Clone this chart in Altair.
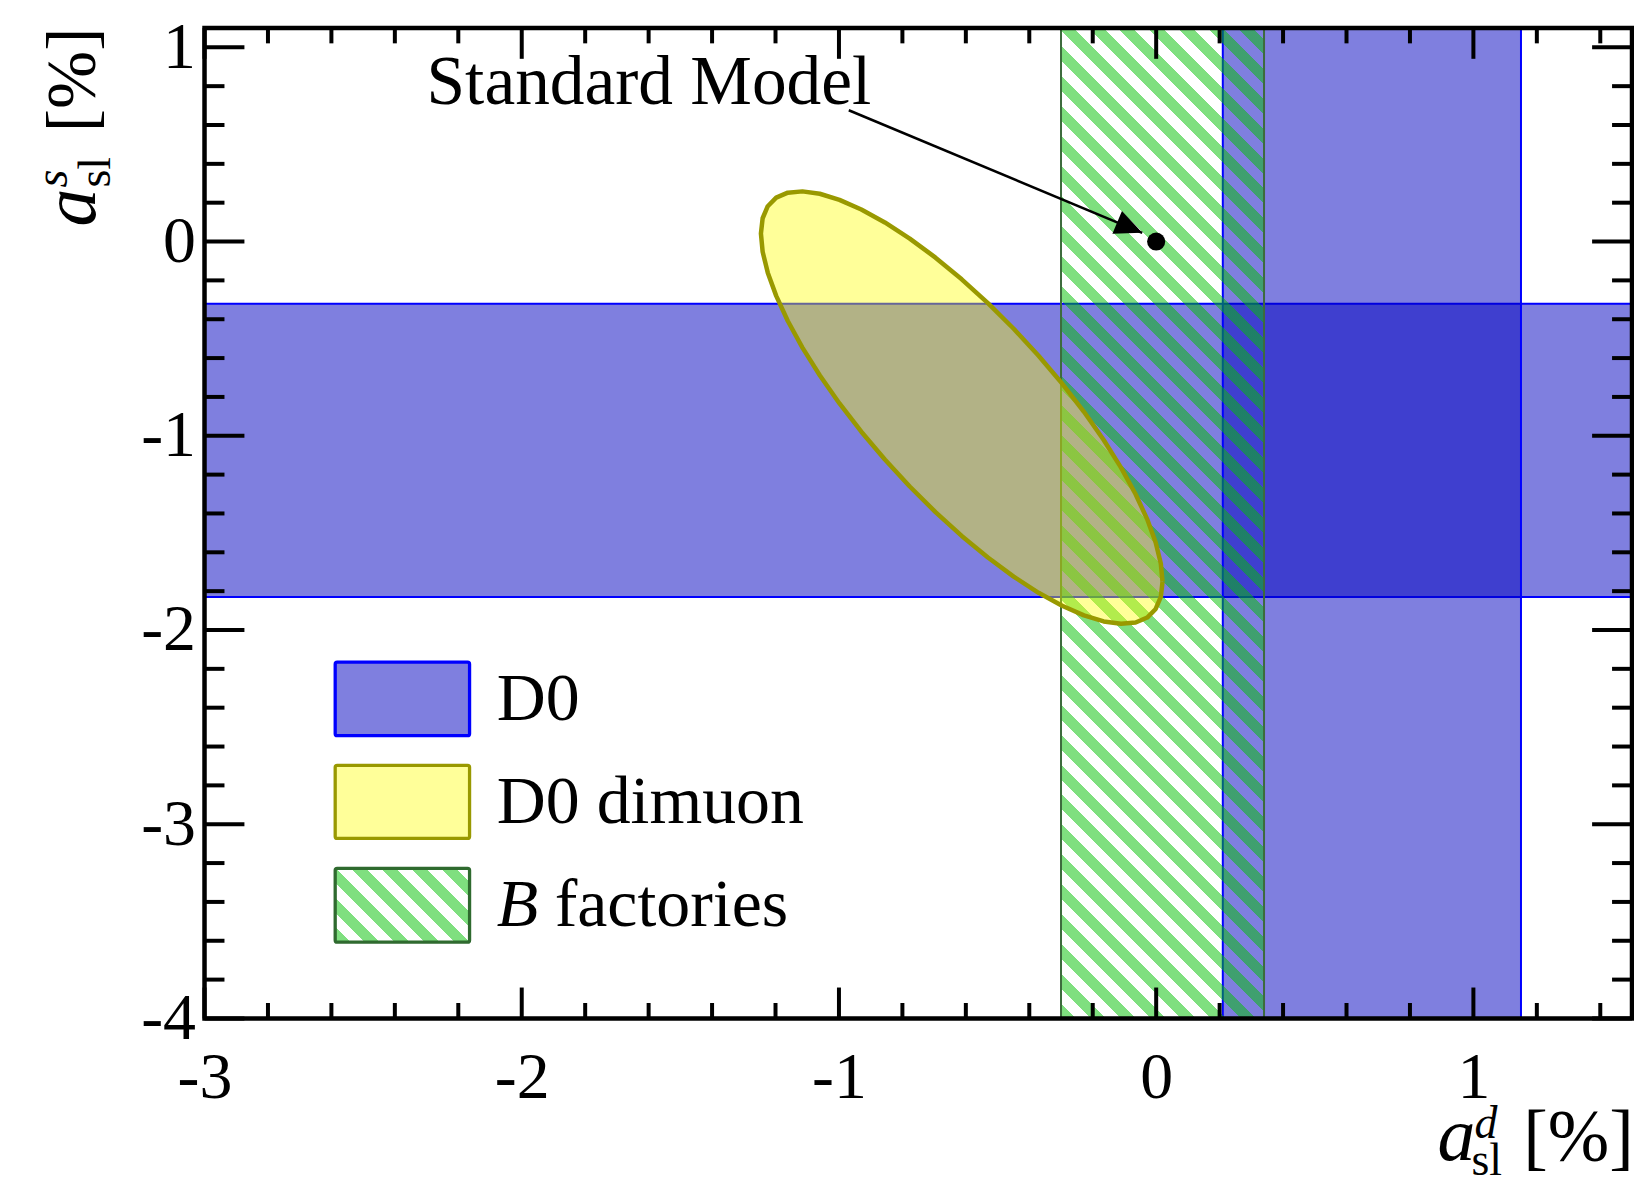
import altair as alt
import numpy as np
import pandas as pd

# ---------------- data ----------------
X_DOMAIN = [-3.0, 1.5]
Y_DOMAIN = [-4.0, 1.1]
x_major = [-3, -2, -1, 0, 1]
y_major = [-4, -3, -2, -1, 0, 1]

d0_asld = [0.21, 1.15]          # D0 vertical band (a_sl^d)
d0_asls = [-1.83, -0.32]        # D0 horizontal band (a_sl^s)
bfac_asld = [-0.30, 0.34]       # B factories band (a_sl^d)

# D0 dimuon 1-sigma contour: centre, widths, correlation
dimuon_center = [-0.613, -0.855]
dimuon_sigma = [0.633, 1.1135]
dimuon_rho = -0.805

sm_point = [0.0, 0.0]
sm_label = "Standard Model"
sm_label_pos = [-2.30, 0.709]
sm_arrow_start = [-0.969, 0.676]
sm_arrow_tip = [-0.044, 0.045]

legend_labels = ["D0", "D0 dimuon", "factories"]

# ---------------- layout ----------------
W, H = 1431, 993
FONT = "Liberation Serif"

xs = alt.Scale(domain=X_DOMAIN, nice=False, zero=False)
ys = alt.Scale(domain=Y_DOMAIN, nice=False, zero=False)
xaxis = alt.Axis(values=x_major, labelExpr="'' + datum.value", labelFont=FONT,
                 labelFontSize=66, labelPadding=27, domain=False, ticks=False,
                 tickSize=0, grid=False, title=None, labelFlush=False, labelColor="black")
yaxis = alt.Axis(values=y_major, labelExpr="'' + datum.value", labelFont=FONT,
                 labelFontSize=66, labelPadding=9, domain=False, ticks=False,
                 tickSize=0, grid=False, title=None, labelFlush=False, labelColor="black")


def X(f):
    return alt.X(f, type="quantitative", scale=xs, axis=xaxis)


def Y(f):
    return alt.Y(f, type="quantitative", scale=ys, axis=yaxis)


def hatch(w, h, period=30.0, frac=0.5, color="rgba(0,192,0,0.5)"):
    clear = "rgba(0,192,0,0)"
    c = (w + h) / (w * w + h * h)
    n = (w + h) / period
    stops = []
    k = 0
    while k / n < 1:
        s0, s1, s2 = k / n, min((k + frac) / n, 1), min((k + 1) / n, 1)
        stops += [(s0, color), (s1, color), (s1, clear), (s2, clear)]
        k += 1
    return alt.LinearGradient(
        gradient="linear",
        stops=[alt.GradientStop(color=col, offset=float(o)) for o, col in stops],
        x1=0, y1=1, x2=float(c * w), y2=float(1 - c * h))


# bands
hband = pd.DataFrame({"x0": [X_DOMAIN[0]], "x1": [X_DOMAIN[1]], "y0": [d0_asls[0]], "y1": [d0_asls[1]]})
vband = pd.DataFrame({"x0": [d0_asld[0]], "x1": [d0_asld[1]], "y0": [Y_DOMAIN[0]], "y1": [Y_DOMAIN[1]]})
bband = pd.DataFrame({"x0": [bfac_asld[0]], "x1": [bfac_asld[1]], "y0": [Y_DOMAIN[0]], "y1": [Y_DOMAIN[1]]})

blue_rect = dict(fill="#0000C0", fillOpacity=0.5, stroke="#0000FF", strokeWidth=2)
l_hband = alt.Chart(hband).mark_rect(**blue_rect).encode(x=X("x0"), x2="x1", y=Y("y0"), y2="y1")
l_vband = alt.Chart(vband).mark_rect(**blue_rect).encode(x=X("x0"), x2="x1", y=Y("y0"), y2="y1")

bw = (bfac_asld[1] - bfac_asld[0]) / (X_DOMAIN[1] - X_DOMAIN[0]) * W
l_bband = alt.Chart(bband).mark_rect(fill=hatch(bw, H), stroke="#3d6b3d", strokeWidth=2).encode(
    x=X("x0"), x2="x1", y=Y("y0"), y2="y1")

# ellipse contour
t = np.linspace(0, 2 * np.pi, 49)
ex = dimuon_center[0] + dimuon_sigma[0] * np.cos(t)
ey = dimuon_center[1] + dimuon_sigma[1] * (dimuon_rho * np.cos(t) + np.sqrt(1 - dimuon_rho ** 2) * np.sin(t))
ell = pd.DataFrame({"x": ex, "y": ey, "o": np.arange(len(t))})
l_ell = alt.Chart(ell).mark_line(fill="#FFFF00", fillOpacity=0.4, stroke="#999900",
                                 strokeWidth=4.5, strokeJoin="round").encode(
    x=X("x"), y=Y("y"), order="o:Q")

# Standard Model point, arrow, label
smdf = pd.DataFrame({"x": [sm_point[0]], "y": [sm_point[1]]})
l_sm = alt.Chart(smdf).mark_point(shape="circle", filled=True, color="black", size=330, opacity=1).encode(
    x=X("x"), y=Y("y"))
arr = pd.DataFrame({"x0": [sm_arrow_start[0]], "y0": [sm_arrow_start[1]],
                    "x1": [sm_arrow_tip[0]], "y1": [sm_arrow_tip[1]]})
l_arrow = alt.Chart(arr).mark_rule(color="black", strokeWidth=2.5).encode(
    x=X("x0"), y=Y("y0"), x2="x1", y2="y1")
l_head = alt.Chart(arr).mark_point(shape="M0,0L-1,-0.456L-1,0.456Z", filled=True, color="black",
                                   size=2959, angle=22.7, opacity=1, strokeWidth=0).encode(
    x=X("x1"), y=Y("y1"))
smt = pd.DataFrame({"x": [sm_label_pos[0]], "y": [sm_label_pos[1]], "t": [sm_label]})
l_smtext = alt.Chart(smt).mark_text(font=FONT, fontSize=69.5, align="left", baseline="alphabetic",
                                    color="black").encode(x=X("x"), y=Y("y"), text="t:N")

# ticks (inward, on all four sides)
x_minor = [v for v in np.round(np.arange(-3.0, 1.5001, 0.2), 1) if v not in x_major and -3 < v < 1.5]
y_minor = [v for v in np.round(np.arange(-4.0, 1.1001, 0.2), 1) if v not in y_major and -4 < v < 1.1]
xt = []
for v in x_major + x_minor:
    L = 31 if v in x_major else 15.5
    xt.append({"v": v, "p0": H, "p1": H - L})
    xt.append({"v": v, "p0": 0, "p1": L})
yt = []
for v in y_major + y_minor:
    L = 40 if v in y_major else 20
    yt.append({"v": v, "p0": 0, "p1": L})
    yt.append({"v": v, "p0": W, "p1": W - L})
l_xt = alt.Chart(pd.DataFrame(xt)).mark_rule(color="black", strokeWidth=4).encode(
    x=X("v"), y=alt.Y("p0:Q", scale=None), y2="p1:Q")
l_yt = alt.Chart(pd.DataFrame(yt)).mark_rule(color="black", strokeWidth=4).encode(
    y=Y("v"), x=alt.X("p0:Q", scale=None), x2="p1:Q")

dummy = pd.DataFrame({"a": [0]})
l_frame = alt.Chart(dummy).mark_rect(fill="white", fillOpacity=0, stroke="black", strokeWidth=4.5).encode(
    x=alt.value(0), x2=alt.value(W), y=alt.value(0), y2=alt.value(H))

# legend (manual, in pixel space)
LX0, LX1 = 131, 265.7
boxes_y = [(635.8, 709.5), (739.2, 812.5), (842.5, 916.5)]


def box(i, **kw):
    d = pd.DataFrame({"x0": [LX0], "x1": [LX1], "y0": [boxes_y[i][0]], "y1": [boxes_y[i][1]]})
    return alt.Chart(d).mark_rect(cornerRadius=2, **kw).encode(
        x=alt.X("x0:Q", scale=None), x2="x1:Q", y=alt.Y("y0:Q", scale=None), y2="y1:Q")


l_box1 = box(0, fill="#0000C0", fillOpacity=0.5, stroke="#0000FF", strokeWidth=3.3)
l_box2 = box(1, fill="#FFFF00", fillOpacity=0.4, stroke="#999900", strokeWidth=3.3)
l_box3 = box(2, fill=hatch(LX1 - LX0, boxes_y[2][1] - boxes_y[2][0]), stroke="#2f6a2f", strokeWidth=3.3)

leg_up = pd.DataFrame({"x": [293, 293, 351], "y": [693.5, 797.5, 900.5], "t": legend_labels})
l_legtext = alt.Chart(leg_up).mark_text(font=FONT, fontSize=68, align="left", baseline="alphabetic",
                                        color="black").encode(
    x=alt.X("x:Q", scale=None), y=alt.Y("y:Q", scale=None), text="t:N")
leg_it = pd.DataFrame({"x": [293], "y": [900.5], "t": ["B"]})
l_legit = alt.Chart(leg_it).mark_text(font=FONT, fontSize=68, fontStyle="italic", align="left",
                                      baseline="alphabetic", color="black").encode(
    x=alt.X("x:Q", scale=None), y=alt.Y("y:Q", scale=None), text="t:N")

# axis titles built from pieces (pixel space relative to the plot area)
xt_it = pd.DataFrame({"x": [1236, 1273], "y": [1135, 1113], "t": ["a", "d"], "s": [76, 46]})
xt_up = pd.DataFrame({"x": [1270, 1322], "y": [1150, 1136], "t": ["sl", "[%]"], "s": [46, 74]})
yt_it = pd.DataFrame({"x": [-110, -138], "y": [199, 160], "t": ["a", "s"], "s": [76, 46]})
yt_up = pd.DataFrame({"x": [-95, -110], "y": [160, 104.5], "t": ["sl", "[%]"], "s": [46, 70]})


def txt(df, italic=False, angle=0):
    kw = dict(font=FONT, align="left", baseline="alphabetic", color="black", angle=angle)
    if italic:
        kw["fontStyle"] = "italic"
    return alt.Chart(df).mark_text(**kw).encode(
        x=alt.X("x:Q", scale=None), y=alt.Y("y:Q", scale=None), text="t:N",
        size=alt.Size("s:Q", scale=None, legend=None))


chart = alt.layer(
    l_hband, l_vband, l_bband, l_ell, l_arrow, l_head, l_sm, l_smtext,
    l_box1, l_box2, l_box3, l_legtext, l_legit,
    txt(xt_it, True), txt(xt_up), txt(yt_it, True, 270), txt(yt_up, False, 270),
    l_xt, l_yt, l_frame,
).properties(
    width=W, height=H,
    autosize=alt.AutoSizeParams(type="none"),
    padding={"left": 197, "top": 18.5, "right": 2, "bottom": 159},
    background="white",
).configure_view(stroke=None)

chart.save("out.html", embed_options={"renderer": "svg", "actions": False})
